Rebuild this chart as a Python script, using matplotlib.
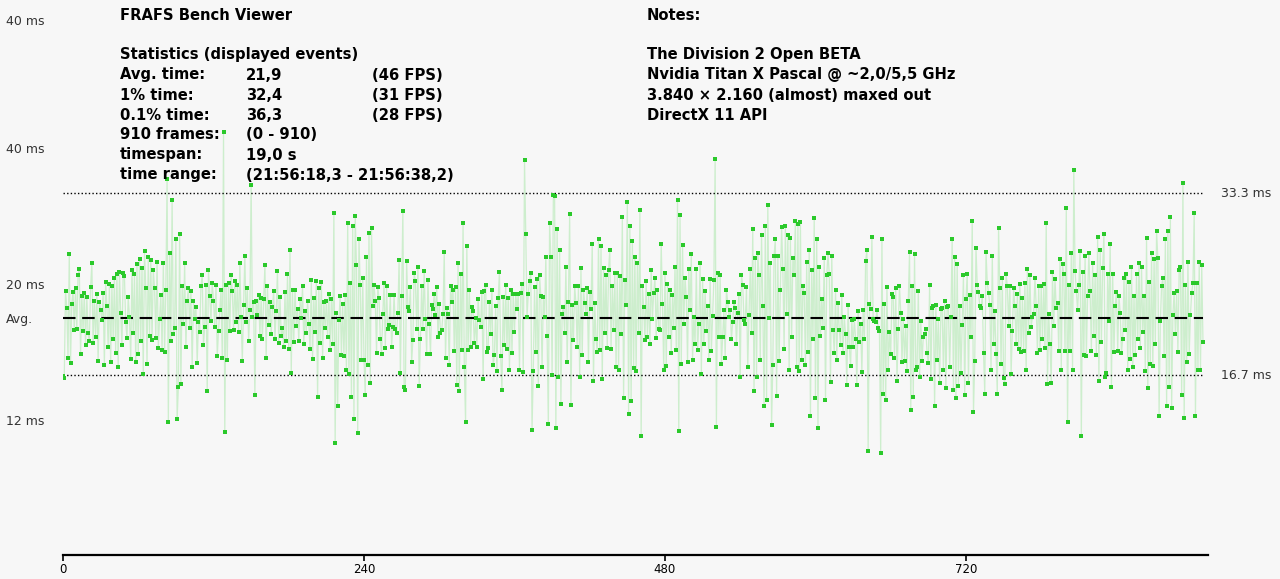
import numpy as np
import matplotlib.pyplot as plt
from matplotlib.transforms import blended_transform_factory

# frame times in ms, one block per stretch of frames
ms_000_129 = [
    16.6, 16.4, 24.4, 22.8, 18.3, 27.7, 17.8, 23.2, 24.3, 20.8,
    24.6, 20.9, 25.8, 26.4, 18.6, 23.9, 20.7, 24.2, 19.4, 23.8,
    20.5, 19.8, 24.7, 26.9, 19.6, 23.5, 20.2, 24.1, 18.0, 23.4,
    22.6, 21.7, 24.2, 17.6, 25.2, 23.0, 19.3, 25.0, 17.9, 24.8,
    20.0, 25.6, 18.7, 25.9, 17.4, 26.1, 22.4, 19.4, 26.0, 25.7,
    21.5, 20.1, 23.8, 22.0, 18.2, 26.3, 20.5, 25.9, 17.9, 26.8,
    18.6, 27.3, 19.8, 26.5, 16.8, 28.0, 24.6, 17.7, 27.5, 20.3,
    27.2, 19.9, 26.3, 24.6, 20.1, 27.0, 19.2, 21.8, 24.0, 19.0,
    26.9, 18.8, 24.5, 34.6, 12.4, 27.8, 19.8, 32.7, 20.4, 21.0,
    29.1, 12.7, 15.6, 29.6, 15.9, 24.8, 21.4, 26.9, 19.3, 23.5,
    24.6, 21.0, 24.4, 17.4, 23.5, 21.8, 22.9, 17.8, 21.5, 20.6,
    24.8, 25.8, 19.4, 21.1, 24.9, 15.2, 26.3, 23.9, 21.6, 25.1,
    23.5, 21.1, 24.9, 18.4, 20.7, 22.6, 24.5, 18.3, 38.9, 11.5,
]
ms_130_261 = [
    24.9, 18.1, 25.1, 20.7, 25.8, 24.4, 20.8, 25.3, 21.5, 24.9,
    20.6, 26.9, 22.0, 18.0, 23.1, 27.6, 21.5, 24.6, 19.8, 22.6,
    34.0, 22.0, 23.4, 14.9, 23.5, 22.2, 24.0, 20.3, 23.7, 20.0,
    23.6, 26.7, 18.3, 24.8, 21.3, 23.4, 20.4, 22.9, 24.4, 20.0,
    22.5, 26.2, 19.6, 23.8, 20.3, 21.0, 19.3, 24.3, 19.8, 25.9,
    19.1, 28.1, 16.9, 24.5, 19.7, 24.5, 21.2, 22.7, 19.8, 23.6,
    21.9, 24.8, 19.5, 22.5, 20.5, 23.5, 21.4, 19.1, 25.4, 18.2,
    23.7, 20.6, 25.3, 14.7, 24.6, 19.6, 25.2, 18.3, 23.4, 21.0,
    23.5, 20.2, 24.1, 19.0, 23.6, 19.5, 31.5, 10.5, 22.4, 13.9,
    21.7, 23.9, 18.5, 23.2, 18.4, 24.0, 17.2, 30.6, 16.8, 25.1,
    14.7, 30.3, 12.7, 31.2, 26.7, 11.4, 29.1, 24.9, 18.1, 25.6,
    18.1, 14.9, 27.5, 17.6, 29.7, 16.0, 30.1, 23.0, 24.9, 23.5,
    18.7, 24.7, 23.7, 20.0, 18.6, 22.3, 25.1, 19.2, 24.8, 20.9,
    21.3, 24.0,
]
ms_262_391 = [
    19.3, 21.1, 24.0, 20.9, 20.5, 22.4, 27.2, 16.9,
    23.9, 31.7, 15.6, 15.3, 27.1, 22.9, 22.5, 24.7, 17.9, 19.9,
    26.0, 25.3, 20.9, 26.6, 15.7, 20.0, 24.8, 20.9, 26.2, 21.8,
    18.6, 25.4, 21.4, 18.6, 23.1, 22.7, 24.1, 22.2, 24.7, 20.2,
    23.2, 20.5, 20.8, 22.3, 27.9, 18.3, 22.8, 22.3, 17.6, 24.8,
    23.4, 24.5, 18.9, 24.7, 15.8, 26.9, 15.2, 25.9, 19.0, 30.6,
    17.4, 12.4, 28.5, 19.0, 24.5, 19.3, 22.9, 22.5, 19.6, 21.9,
    19.3, 23.6, 21.7, 21.1, 24.3, 16.3, 24.4, 24.9, 18.8, 19.2,
    23.4, 20.4, 24.5, 17.6, 18.5, 23.0, 17.1, 23.7, 26.1, 18.4,
    15.3, 23.8, 19.4, 24.9, 19.1, 23.7, 17.2, 24.5, 18.7, 24.1,
    20.6, 24.1, 22.7, 24.1, 17.2, 24.2, 25.0, 17.0, 36.3, 29.6,
    22.0, 24.1, 25.3, 26.0, 11.7, 17.1, 24.7, 18.8, 25.5, 15.7,
    25.8, 23.9, 17.4, 23.8, 22.0, 27.5, 20.3, 12.2, 30.6, 27.5,
    16.7, 33.1,
]
ms_392_523 = [
    33.0, 11.9, 30.0, 16.5, 28.1, 14.1, 22.3, 22.9,
    20.5, 26.6, 17.9, 23.4, 31.4, 14.0, 23.1, 19.9, 24.8, 23.3,
    19.3, 24.8, 16.5, 26.5, 18.5, 24.5, 23.3, 22.3, 24.6, 17.9,
    24.3, 22.7, 28.7, 16.2, 23.3, 20.0, 18.8, 29.1, 19.0, 28.5,
    16.3, 26.5, 20.5, 25.8, 19.2, 26.3, 28.1, 19.1, 24.8, 20.8,
    26.0, 17.4, 26.0, 17.2, 25.7, 20.4, 31.1, 14.6, 25.4, 23.1,
    32.5, 13.1, 30.3, 14.3, 28.9, 17.3, 27.5, 17.1, 26.9, 20.5,
    31.8, 11.1, 24.8, 22.9, 19.9, 25.3, 20.2, 24.1, 19.5, 26.3,
    21.8, 24.2, 25.6, 20.1, 24.5, 20.9, 20.8, 28.7, 23.2, 17.2,
    26.0, 17.5, 25.0, 20.2, 24.5, 18.7, 24.0, 21.0, 26.6, 19.0,
    32.7, 11.6, 31.3, 17.7, 28.6, 21.4, 25.6, 23.8, 17.9, 26.4,
    22.6, 27.7, 18.1, 22.0, 19.5, 26.4, 19.0, 21.4, 26.9, 16.8,
    25.5, 19.5, 24.4, 20.7, 23.0, 18.1, 25.5, 18.9, 22.1, 25.4,
    36.4, 12.0, 26.0, 20.2,
]
ms_524_655 = [
    25.8, 17.7, 20.2, 22.6, 18.3, 24.5,
    23.4, 22.0, 22.6, 20.0, 21.5, 23.4, 22.8, 19.5, 22.4, 24.1,
    16.5, 25.8, 24.9, 21.7, 21.4, 24.7, 17.4, 22.2, 26.4, 20.5,
    30.0, 15.2, 27.4, 16.5, 27.8, 25.8, 18.1, 29.5, 23.0, 13.9,
    30.3, 14.4, 32.2, 21.9, 26.9, 12.1, 17.6, 27.6, 29.1, 14.8,
    27.6, 18.0, 24.5, 30.2, 26.4, 19.1, 30.3, 22.3, 29.5, 17.2,
    29.2, 20.2, 27.4, 25.8, 30.8, 17.4, 30.5, 17.1, 30.7, 18.1,
    24.8, 24.2, 17.6, 27.0, 18.8, 28.1, 13.0, 26.3, 20.0, 31.0,
    14.6, 29.1, 11.9, 26.6, 20.3, 23.6, 21.0, 27.4, 14.4, 25.8,
    27.8, 25.9, 16.1, 27.6, 20.8, 18.7, 24.5, 18.1, 23.3, 20.8,
    19.4, 24.0, 18.7, 22.0, 20.4, 15.8, 23.1, 19.3, 17.5, 21.7,
    19.3, 21.8, 20.0, 15.8, 22.5, 19.7, 21.4, 17.0, 22.6, 20.0,
    27.1, 28.1, 9.8, 23.2, 22.7, 29.3, 21.8, 21.6, 21.5, 22.6,
    21.0, 20.7, 9.6, 29.1, 15.0, 23.2,
]
ms_656_787 = [
    14.4, 24.7, 17.2, 20.6,
    18.6, 24.1, 23.8, 18.3, 24.6, 16.2, 20.9, 24.8, 22.4, 17.9,
    21.8, 18.0, 21.2, 17.1, 23.5, 27.9, 13.5, 24.8, 14.7, 27.7,
    17.2, 17.4, 24.4, 16.5, 21.6, 18.0, 20.2, 20.4, 20.9, 18.7,
    17.8, 24.9, 16.3, 22.8, 23.0, 13.9, 23.1, 18.1, 21.8, 16.0,
    22.7, 22.8, 17.2, 23.5, 15.5, 22.9, 23.0, 17.4, 22.0, 29.1,
    15.3, 27.5, 14.6, 26.8, 15.7, 23.0, 16.9, 21.3, 25.8, 14.9,
    23.6, 25.9, 16.0, 24.0, 20.2, 30.8, 13.3, 18.0, 28.3, 24.9,
    24.3, 23.0, 22.8, 23.9, 18.7, 15.0, 27.9, 25.1, 24.2, 23.1,
    17.2, 27.6, 19.5, 22.5, 18.6, 15.0, 30.1, 24.6, 17.7, 25.6,
    16.4, 15.9, 25.9, 24.8, 21.2, 24.8, 16.8, 20.7, 24.6, 23.0,
    19.5, 24.1, 19.1, 25.0, 18.8, 23.7, 18.9, 25.1, 17.2, 26.4,
    20.5, 25.8, 21.1, 22.0, 22.3, 25.6, 23.0, 18.7, 24.8, 19.0,
    24.8, 20.0, 25.0, 19.2, 30.6, 15.9, 22.3, 19.5,
]
ms_788_909 = [
    16.0, 26.1,
    21.2, 25.5, 22.8, 23.3, 18.9, 27.3, 17.2, 26.8, 25.9, 18.9,
    31.9, 12.4, 24.9, 18.9, 27.8, 17.2, 35.4, 26.2, 24.4, 22.6,
    24.9, 28.0, 11.1, 26.1, 18.5, 27.6, 18.4, 23.9, 27.8, 24.4,
    18.9, 26.9, 20.3, 25.8, 18.5, 29.3, 16.2, 28.1, 19.7, 26.5,
    29.6, 16.5, 16.9, 25.9, 21.6, 28.7, 15.6, 25.9, 18.8, 23.0,
    24.3, 18.9, 23.9, 22.4, 18.7, 20.0, 25.6, 20.8, 25.9, 17.2,
    25.2, 18.2, 26.6, 17.4, 23.9, 18.5, 25.9, 20.0, 26.9, 19.2,
    26.6, 20.6, 23.9, 17.1, 29.2, 15.5, 25.2, 17.7, 27.8, 17.5,
    27.3, 19.5, 29.8, 27.4, 13.0, 21.6, 24.8, 25.6, 18.4, 29.1,
    13.9, 29.8, 15.6, 31.1, 13.7, 22.2, 24.2, 20.4, 24.4, 18.8,
    26.3, 26.6, 14.9, 34.2, 12.8, 24.9, 17.9, 27.0, 18.6, 22.2,
    24.2, 25.1, 31.5, 13.0, 25.1, 17.2, 27.0, 17.2, 26.7, 19.7,
]

frame_ms = np.array(ms_000_129 + ms_130_261 + ms_262_391 + ms_392_523
                    + ms_524_655 + ms_656_787 + ms_788_909)
frames = np.arange(len(frame_ms))

avg_ms = 21.9
limit_hi = 33.3
limit_lo = 16.7

# left axis labels as the viewer places them
ytick_vals = [49.1, 37.4, 25.0, 21.9, 12.6]
ytick_text = ['40 ms', '40 ms', '20 ms', 'Avg.', '12 ms']
xtick_vals = [0, 240, 480, 720]

stats_rows = [
    ('Avg. time:', '21,9', '(46 FPS)'),
    ('1% time:', '32,4', '(31 FPS)'),
    ('0.1% time:', '36,3', '(28 FPS)'),
    ('910 frames:', '(0 - 910)', ''),
    ('timespan:', '19,0 s', ''),
    ('time range:', '(21:56:18,3 - 21:56:38,2)', ''),
]
notes = [
    'The Division 2 Open BETA',
    'Nvidia Titan X Pascal @ ~2,0/5,5 GHz',
    '3.840 \u00d7 2.160 (almost) maxed out',
    'DirectX 11 API',
]

W, H = 1280, 579
bg = '#f7f7f7'
fig = plt.figure(figsize=(W / 100, H / 100), dpi=100, facecolor=bg)
ax = fig.add_axes([63 / W, 24 / H, 1145 / W, 555 / H])
ax.set_facecolor(bg)

ax.plot(frames, frame_ms, color='#cdeecd', lw=0.9, zorder=2)
ax.plot(frames, frame_ms, ls='none', marker='s', ms=2.2, mew=0,
        color='#2bc92b', zorder=4)

n = len(frame_ms)
ax.hlines([limit_hi, limit_lo], 0, n - 1, colors='black', lw=1.0,
          linestyles=[(0, (1, 1.6))], zorder=3)
ax.hlines(avg_ms, 0, n - 1, colors='black', lw=1.5,
          linestyles=[(0, (6, 3.2))], zorder=3)

ax.set_xlim(0, 913)
ax.set_ylim(0.28, 50.92)

for s in ['top', 'right', 'left']:
    ax.spines[s].set_visible(False)
ax.spines['bottom'].set_linewidth(1.6)

ax.set_xticks(xtick_vals)
ax.set_xticklabels([str(v) for v in xtick_vals],
                   family=['Liberation Sans Narrow', 'DejaVu Sans'], fontsize=8.5)
ax.tick_params(axis='x', direction='out', length=4, width=1.2, pad=2)

ax.set_yticks(ytick_vals)
ax.set_yticklabels(ytick_text, fontsize=9, color='#333333', ha='left')
ax.tick_params(axis='y', length=0, pad=41)

tr = blended_transform_factory(ax.transAxes, ax.transData)
ax.text(1.0114, limit_hi, '33.3 ms', transform=tr, fontsize=9,
        color='#333333', va='center', ha='left')
ax.text(1.0114, limit_lo, '16.7 ms', transform=tr, fontsize=9,
        color='#333333', va='center', ha='left')


def ftext(x, y, s):
    fig.text(x / W, 1 - y / H, s, fontsize=10.6, fontweight='bold',
             va='center', ha='left', color='black')


ftext(120, 15, 'FRAFS Bench Viewer')
ftext(120, 55, 'Statistics (displayed events)')
for i, (a, b, c) in enumerate(stats_rows):
    y = 75 + 20 * i
    ftext(120, y, a)
    ftext(246, y, b)
    if c:
        ftext(372, y, c)

ftext(647, 15, 'Notes:')
for i, line in enumerate(notes):
    ftext(647, 55 + 20 * i, line)

fig.savefig('out.png', dpi=100, facecolor=bg)
